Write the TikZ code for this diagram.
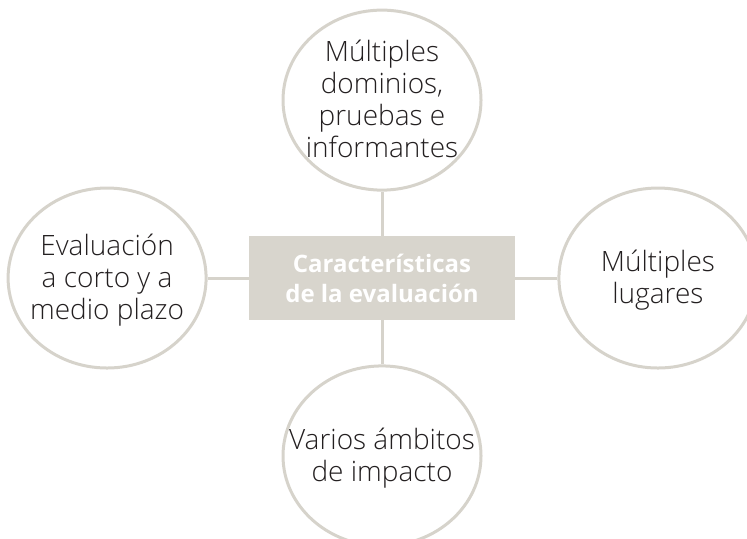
\documentclass[tikz,border=0pt]{standalone}
\usepackage{fontspec}
\setmainfont{Open Sans}
\newfontfamily\ligera{Open Sans Light}
\usepackage{xcolor}
\usepackage{tikz}
\usetikzlibrary{positioning}
\usetikzlibrary{shapes.geometric}

\definecolor{grislinea}{RGB}{214,211,203}
\definecolor{grisfondo}{RGB}{216,213,205}
\definecolor{negrotexto}{RGB}{35,31,32}

\newcommand{\lineas}[1]{\makebox[0pt]{\smash{\raisebox{-5pt}{\begin{tabular}{@{}c@{}}#1\end{tabular}}}}}

\tikzset{
  rasgo/.style={ellipse,draw=grislinea,line width=1.5pt,fill=white,
    minimum width=99pt,minimum height=90pt,inner sep=0pt,
    text=negrotexto,font=\ligera\fontsize{14}{16}\selectfont},
  centro/.style={rectangle,fill=grisfondo,minimum width=133pt,minimum height=42pt,
    inner sep=0pt,align=center,text=white,font=\fontsize{12}{15}\selectfont\bfseries},
  enlace/.style={draw=grislinea,line width=1.5pt}
}

\begin{document}
\begin{tikzpicture}[x=0.5pt,y=-0.5pt, node distance=22pt and 20.5pt]
\useasboundingbox (0,0) rectangle (747,538);
\node[centro] (c) at (382,278) {Características\\de la evaluación};
\node[rasgo,above=of c] (arriba) {\lineas{Múltiples\\dominios,\\pruebas e\\informantes}};
\node[rasgo,left=of c] (izq) {\lineas{Evaluación\\a corto y a\\medio plazo}};
\node[rasgo,right=21pt of c] (der) {\lineas{Múltiples\\lugares}};
\node[rasgo,below=of c] (abajo) {\lineas{Varios ámbitos\\de impacto}};

\draw[enlace] (c) -- (arriba);
\draw[enlace] (c) -- (izq);
\draw[enlace] (c) -- (der);
\draw[enlace] (c) -- (abajo);
\end{tikzpicture}
\end{document}
